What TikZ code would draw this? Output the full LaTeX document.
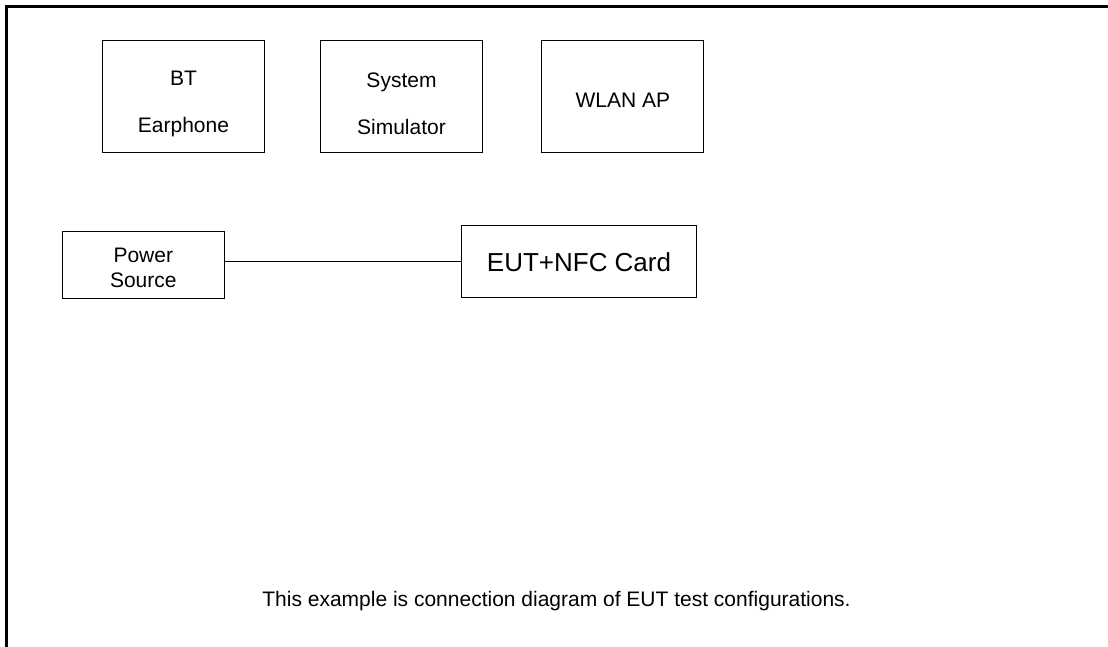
\documentclass[tikz,border=0pt]{standalone}
\usepackage{fontspec}
\setmainfont{Liberation Sans}
\usepackage{tikz}
\usetikzlibrary{calc}
\tikzstyle{DevNode}=[rectangle, draw=black, line width=1pt, inner sep=0pt, outer sep=0pt, align=center, font=\fontsize{21}{25}\selectfont]
\tikzstyle{TopNode}=[DevNode, minimum width=162, minimum height=112]
\tikzstyle{EutNode}=[DevNode, minimum width=235, minimum height=72, font=\fontsize{26}{30}\selectfont]
\tikzstyle{CableEdge}=[line width=1.3pt]
\tikzstyle{FrameEdge}=[line width=3pt]
\newcommand{\LiftText}[1]{\rule{0pt}{#1}}

\begin{document}
\begin{tikzpicture}[x=1pt, y=-1pt]
\useasboundingbox (0,0) rectangle (1108,647);
\draw[FrameEdge] (6.5,647) -- (6.5,6.5) -- (1108,6.5);

\node[TopNode](BT) at (183.5,97) {\LiftText{28pt}BT\\[22pt]Earphone};
\node[TopNode](SIM) at (401.5,97) {\LiftText{28pt}System\\[22pt]Simulator};
\node[TopNode](AP) at (622.8,97) {\LiftText{21pt}WLAN AP};
\node[DevNode, minimum width=162, minimum height=67](PWR) at (143.3,265.3) {\LiftText{20.4pt}Power\\Source};
\node[EutNode](EUT) at (579,261.8) {EUT+NFC Card};

\draw[CableEdge](EUT.west) -- (EUT.west -| PWR.east);

\node[font=\fontsize{21}{25}\selectfont, anchor=base](NOTE) at (556.5,606) {This example is connection diagram of EUT test configurations.};
\end{tikzpicture}
\end{document}
